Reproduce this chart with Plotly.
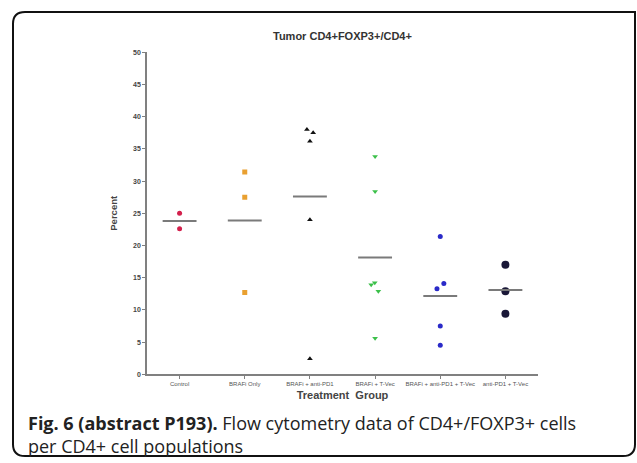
import plotly.graph_objects as go

W, H = 637, 463

categories = ["Control", "BRAFi Only", "BRAFi + anti-PD1", "BRAFi + T-Vec",
              "BRAFi + anti-PD1 + T-Vec", "anti-PD1 + T-Vec"]

control = [25.0, 22.6]
brafi_only = [31.4, 27.5, 12.7]
brafi_pd1 = [38.0, 37.5, 36.2, 24.0, 2.4]
brafi_tvec = [33.8, 28.4, 14.2, 13.9, 12.9, 5.6]
brafi_pd1_tvec = [21.4, 14.1, 13.3, 7.5, 4.5]
pd1_tvec = [17.0, 12.9, 9.4]

series = [control, brafi_only, brafi_pd1, brafi_tvec, brafi_pd1_tvec, pd1_tvec]

# horizontal scatter offsets (column-scatter spread), category units
offsets = [
    [0, 0],
    [0, 0, 0],
    [-0.046, 0.05, 0, 0, 0],
    [0, 0, -0.005, -0.06, 0.05, 0],
    [0, 0.055, -0.05, 0, 0],
    [0, 0, 0],
]

colors = ["#d3204c", "#e9a030", "#111111", "#3cc04a", "#2a2ac8", "#1a1838"]
symbols = ["circle", "square", "triangle-up", "triangle-down", "circle", "circle"]
sizes = [5, 5, 5, 5, 5, 8]

y_ticks = [0, 5, 10, 15, 20, 25, 30, 35, 40, 45, 50]

fig = go.Figure()

for i, vals in enumerate(series):
    xs = [i + o for o in offsets[i]]
    fig.add_trace(go.Scatter(
        x=xs, y=vals, mode="markers",
        marker=dict(color=colors[i], symbol=symbols[i], size=sizes[i], line=dict(width=0)),
        showlegend=False, hoverinfo="y"))
    m = sum(vals) / len(vals)
    fig.add_trace(go.Scatter(
        x=[i - 0.26, i + 0.26], y=[m, m], mode="lines",
        line=dict(color="#7a7a7a", width=2), showlegend=False, hoverinfo="skip"))

x0, x1 = 147 / W, 538 / W
yb, yt = 1 - 376 / H, 1 - 49 / H

axis_font = dict(family="Liberation Sans, Arial", size=7, color="#444444")

fig.update_layout(
    width=W, height=H,
    margin=dict(l=0, r=0, t=0, b=0),
    paper_bgcolor="white", plot_bgcolor="white",
    xaxis=dict(
        domain=[x0, x1], range=[-0.5, 5.5],
        tickmode="array", tickvals=list(range(len(categories))), ticktext=categories,
        tickangle=0,
        showgrid=False, zeroline=False, showline=True, linecolor="#808080", linewidth=1.5,
        ticks="outside", ticklen=3, tickcolor="#808080", tickwidth=1,
        tickfont=dict(family="Liberation Sans, Arial", size=6, color="#555555"),
        title=dict(text="<b>Treatment  Group</b>", standoff=5,
                   font=dict(family="Liberation Sans, Arial", size=11, color="#444444")),
        fixedrange=True,
    ),
    yaxis=dict(
        domain=[yb, yt], range=[0, 50],
        tickmode="array", tickvals=y_ticks, ticktext=[f"<b>{t}</b>" for t in y_ticks],
        showgrid=False, zeroline=False, showline=True, linecolor="#808080", linewidth=1.5,
        ticks="outside", ticklen=3, tickcolor="#808080", tickwidth=1,
        tickfont=axis_font,
        title=dict(text="<b>Percent</b>", standoff=14,
                   font=dict(family="Liberation Sans, Arial", size=9.5, color="#444444")),
        fixedrange=True,
    ),
)

# chart title
fig.add_annotation(
    x=342 / W, y=1 - 32 / H, xref="paper", yref="paper", showarrow=False,
    text="<b>Tumor CD4+FOXP3+/CD4+</b>",
    font=dict(family="Liberation Sans, Arial", size=11, color="#333333"),
    xanchor="center", yanchor="middle")

# caption
fig.add_annotation(
    x=26 / W, y=1 - 411 / H, xref="paper", yref="paper", showarrow=False,
    text="<b>Fig. 6 (abstract P193).</b> Flow cytometry data of CD4+/FOXP3+ cells<br>per CD4+ cell populations",
    font=dict(family="Open Sans", size=18, color="#222222"),
    align="left", xanchor="left", yanchor="top")

# card border (rounded rectangle)
l, r, t, b, rad = 13, 635, 8, 459, 12
def px(x): return x / W
def py(y): return 1 - y / H
path = (f"M {px(l+rad)},{py(t)} L {px(r)},{py(t)} L {px(r)},{py(b-rad)} "
        f"Q {px(r)},{py(b)} {px(r-rad)},{py(b)} L {px(l+rad)},{py(b)} "
        f"Q {px(l)},{py(b)} {px(l)},{py(b-rad)} L {px(l)},{py(t+rad)} "
        f"Q {px(l)},{py(t)} {px(l+rad)},{py(t)} Z")
fig.add_shape(type="path", path=path, xref="paper", yref="paper",
              line=dict(color="#111111", width=2), fillcolor="rgba(0,0,0,0)")

fig.write_html("out.html")
